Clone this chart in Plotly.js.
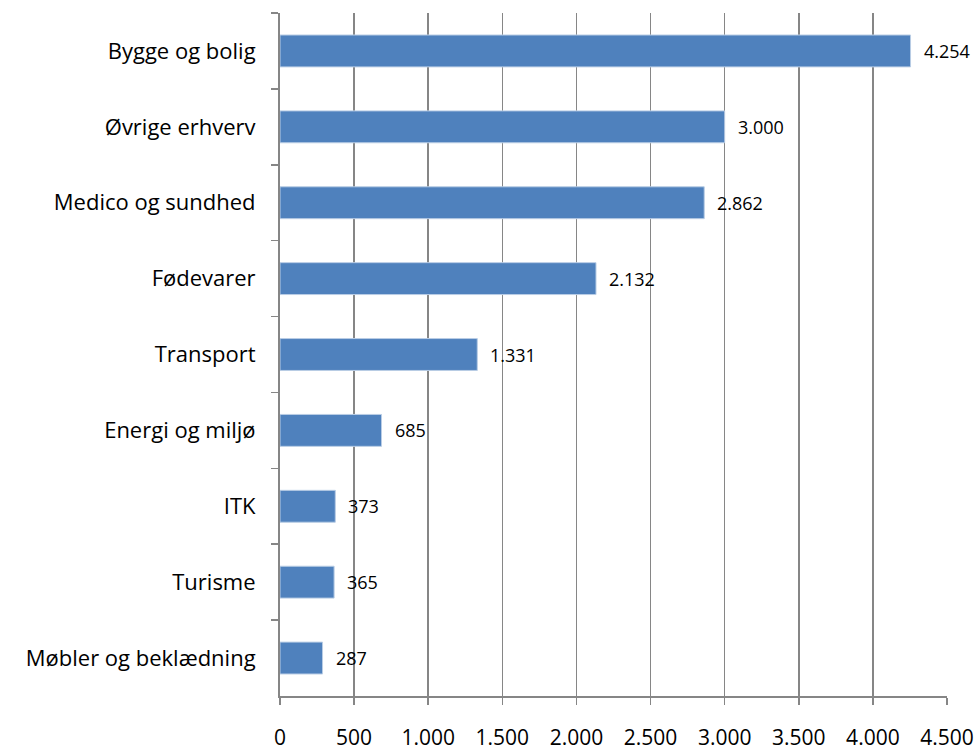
<!DOCTYPE html>
<html>
<head>
<meta charset="utf-8">
<script src="https://cdn.plot.ly/plotly-3.0.1.min.js"></script>
<style>html,body{margin:0;padding:0;background:#fff;}#chart{width:980px;height:751px;}</style>
</head>
<body>
<div id="chart"></div>
<script>
const categories = ["Bygge og bolig", "Øvrige erhverv", "Medico og sundhed", "Fødevarer", "Transport", "Energi og miljø", "ITK", "Turisme", "Møbler og beklædning"];
const values = [4254, 3000, 2862, 2132, 1331, 685, 373, 365, 287];
const xTicks = [0, 500, 1000, 1500, 2000, 2500, 3000, 3500, 4000, 4500];

const fmt = v => v.toString().replace(/\B(?=(\d{3})+(?!\d))/g, ".");
const FONT = "Open Sans, Lato, sans-serif";

const trace = {
  type: "bar",
  orientation: "h",
  x: values,
  y: categories,
  marker: {color: "#4F81BD", line: {color: "#B9CDE5", width: 1}},
  hoverinfo: "none"
};

const annotations = values.map((v, i) => ({
  x: v, y: categories[i], xref: "x", yref: "y",
  text: fmt(v), showarrow: false, xanchor: "left", xshift: 11,
  font: {family: FONT, size: 18, color: "#000"}
}));

const layout = {
  width: 980, height: 751,
  margin: {l: 280, r: 33, t: 13, b: 55},
  paper_bgcolor: "#fff", plot_bgcolor: "#fff",
  separators: ",.",
  showlegend: false,
  bargap: 0.58,
  font: {family: FONT, color: "#000"},
  xaxis: {
    range: [0, 4500], tickvals: xTicks, ticktext: xTicks.map(fmt),
    showgrid: true, gridcolor: "#868686", gridwidth: 1.5,
    zeroline: false, showline: true, linecolor: "#868686", linewidth: 2,
    ticks: "outside", ticklen: 7, tickcolor: "#868686", tickwidth: 1.5,
    ticklabelstandoff: 15,
    tickfont: {family: FONT, size: 21, color: "#000"}, fixedrange: true
  },
  yaxis: {
    autorange: "reversed", type: "category",
    showline: true, linecolor: "#868686", linewidth: 2,
    ticks: "outside", ticklen: 7, tickcolor: "#868686", tickwidth: 1.5,
    tickson: "boundaries", showgrid: false, zeroline: false,
    ticklabelstandoff: 18,
    tickfont: {family: FONT, size: 22, color: "#000"}, fixedrange: true
  },
  annotations: annotations
};

Plotly.newPlot("chart", [trace], layout, {displayModeBar: false, staticPlot: true});
</script>
</body>
</html>
